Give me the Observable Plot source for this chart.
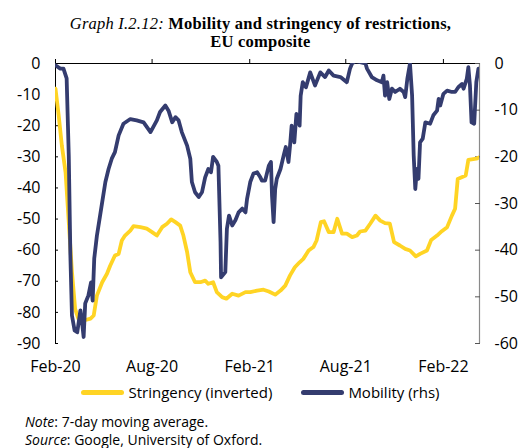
<!DOCTYPE html>
<html><head><meta charset="utf-8">
<script src="https://cdn.jsdelivr.net/npm/d3@7"></script>
<script src="https://cdn.jsdelivr.net/npm/@observablehq/plot@0.6"></script>
<style>
body{margin:0;background:#fff;width:521px;height:448px;overflow:hidden;}
#title{height:50px;box-sizing:border-box;padding-top:14.5px;text-align:center;font-family:"Liberation Serif",serif;font-size:16.5px;line-height:18.3px;letter-spacing:0.22px;color:#000;}
#chart{height:325px;}
#legend{display:flex;justify-content:center;align-items:center;margin-top:6px;height:22px;font-family:"Open Sans",sans-serif;font-size:15px;color:#000;}
.sw{display:inline-block;width:43px;height:5px;border-radius:3px;margin-right:4px;}
.item{display:flex;align-items:center;}
#notes{margin-top:10px;padding-left:25px;font-family:"Open Sans",sans-serif;font-size:14px;line-height:18px;color:#000;}
</style></head><body>
<div id="title"><i>Graph I.2.12:</i> <b>Mobility and stringency of restrictions,<br>EU composite</b></div>
<div id="chart"></div>
<div id="legend"><span class="item"><span class="sw" id="sw1"></span><span id="lab1"></span></span><span class="item" style="margin-left:29px"><span class="sw" id="sw2"></span><span id="lab2"></span></span></div>
<div id="notes"><div><i>Note</i>: 7-day moving average.</div><div><i>Source</i>: Google, University of Oxford.</div></div>
<script>
const seriesNames = ["Stringency (inverted)", "Mobility (rhs)"];
const seriesColors = ["#FFD424", "#343C6F"];

const stringencyDates = ["2020-02-01","2020-02-07","2020-02-13","2020-02-20","2020-02-26","2020-03-03","2020-03-09","2020-03-15","2020-03-25","2020-04-07","2020-04-13","2020-04-19","2020-04-29","2020-05-08","2020-05-14","2020-05-23","2020-05-30","2020-06-05","2020-06-11","2020-06-21","2020-06-27","2020-07-10","2020-07-22","2020-08-01","2020-08-10","2020-08-20","2020-08-29","2020-09-06","2020-09-14","2020-09-23","2020-09-29","2020-10-06","2020-10-12","2020-10-21","2020-10-31","2020-11-09","2020-11-15","2020-11-24","2020-12-01","2020-12-11","2020-12-19","2020-12-30","2021-01-11","2021-01-24","2021-02-02","2021-02-15","2021-02-27","2021-03-09","2021-03-21","2021-03-31","2021-04-09","2021-04-18","2021-04-27","2021-05-06","2021-05-13","2021-05-23","2021-06-01","2021-06-07","2021-06-15","2021-06-21","2021-06-30","2021-07-09","2021-07-16","2021-07-25","2021-08-03","2021-08-13","2021-08-22","2021-08-28","2021-09-07","2021-09-16","2021-09-26","2021-10-05","2021-10-14","2021-10-23","2021-10-31","2021-11-11","2021-11-21","2021-11-30","2021-12-11","2021-12-19","2022-01-01","2022-01-09","2022-01-20","2022-01-29","2022-02-08","2022-02-17","2022-02-23","2022-02-28","2022-03-15","2022-03-20","2022-04-04","2022-04-10"];
const stringencyValues = [-8.1,-16.7,-26.4,-35,-51,-67,-78.9,-82,-82.6,-82,-81,-74.6,-70.3,-67.6,-65,-61.7,-61.2,-56.9,-55.3,-53.7,-52.3,-52.6,-53.1,-54.2,-55.3,-52.6,-51.5,-50.1,-51,-52.1,-55.3,-60.6,-67.1,-70.3,-70.3,-69.8,-70.8,-70.3,-73.5,-75.1,-75.6,-74,-74.6,-73.5,-73.5,-73,-72.7,-73.3,-74.3,-73,-71.4,-68.1,-65.5,-63.9,-62.8,-60.1,-59,-56.9,-51,-50.7,-54.2,-54.2,-49.9,-54.7,-54.7,-55.8,-55.3,-54,-53.7,-51.5,-48.9,-50.5,-51.3,-51.5,-57.4,-58.5,-59.6,-60.1,-62,-61.2,-60.1,-56.7,-55.3,-53.9,-52.6,-48.9,-46.7,-37.1,-36,-31,-30.6,-30.1];

const mobilityDates = ["2020-02-01","2020-02-10","2020-02-16","2020-02-22","2020-02-26","2020-02-29","2020-03-03","2020-03-08","2020-03-13","2020-03-19","2020-03-22","2020-03-25","2020-03-28","2020-04-03","2020-04-08","2020-04-11","2020-04-14","2020-04-19","2020-04-25","2020-04-29","2020-05-05","2020-05-11","2020-05-17","2020-05-23","2020-05-30","2020-06-08","2020-06-21","2020-07-03","2020-07-16","2020-07-29","2020-08-10","2020-08-16","2020-08-26","2020-09-01","2020-09-08","2020-09-14","2020-09-20","2020-09-26","2020-10-06","2020-10-12","2020-10-15","2020-10-21","2020-10-28","2020-11-03","2020-11-09","2020-11-15","2020-11-20","2020-11-24","2020-12-01","2020-12-04","2020-12-08","2020-12-09","2020-12-17","2020-12-20","2020-12-24","2020-12-30","2021-01-05","2021-01-11","2021-01-18","2021-01-24","2021-01-27","2021-02-02","2021-02-08","2021-02-15","2021-02-21","2021-02-24","2021-03-02","2021-03-09","2021-03-13","2021-03-15","2021-03-18","2021-03-21","2021-03-24","2021-03-31","2021-04-06","2021-04-10","2021-04-15","2021-04-18","2021-04-21","2021-04-26","2021-04-30","2021-05-06","2021-05-08","2021-05-12","2021-05-18","2021-05-26","2021-06-04","2021-06-14","2021-06-23","2021-06-30","2021-07-09","2021-07-22","2021-08-03","2021-08-09","2021-08-13","2021-08-19","2021-08-28","2021-09-07","2021-09-10","2021-09-19","2021-09-29","2021-10-08","2021-10-11","2021-10-14","2021-10-18","2021-10-22","2021-10-27","2021-11-02","2021-11-11","2021-11-18","2021-11-21","2021-11-25","2021-11-30","2021-12-04","2021-12-07","2021-12-10","2021-12-13","2021-12-16","2021-12-19","2021-12-24","2021-12-29","2022-01-07","2022-01-13","2022-01-20","2022-01-23","2022-01-26","2022-02-01","2022-02-08","2022-02-17","2022-02-23","2022-03-01","2022-03-08","2022-03-11","2022-03-17","2022-03-20","2022-03-23","2022-03-26","2022-03-31","2022-04-04","2022-04-08"];
const mobilityValues = [-0.4,-1.1,-1.1,-3.2,-19.7,-41,-54,-57.2,-57.6,-52.9,-55.4,-58.6,-51.4,-49.7,-46.9,-50.8,-41.8,-36.9,-32.6,-29.7,-25.4,-22.6,-20.4,-19,-15.4,-12.9,-11.9,-12.2,-12.6,-14.7,-12.2,-10.4,-9,-10.1,-12.6,-11.5,-12.2,-14.7,-17.6,-20.4,-25.4,-27.6,-28.6,-27.6,-24.4,-22.6,-23.3,-20,-21.1,-21.9,-38.3,-45.8,-44.7,-35.4,-32.6,-34.7,-33.6,-31.9,-31.1,-31.9,-29,-25.4,-23.6,-23.3,-24.4,-25.1,-25.1,-21.9,-21.1,-28.3,-34,-26.9,-24.7,-22.6,-19.7,-17.9,-21.1,-17.6,-13.3,-16.9,-10.8,-13.3,-6.9,-4,-5.1,-1.9,-4.7,-1.9,-2.9,-1.5,-2.6,-2.9,-4,-1.1,0,0.5,0.3,0,-1.1,-2.9,-3.6,-4,-2.6,-6.9,-4,-7.6,-5.4,-6.1,-5.4,-6.1,-7.2,-3.3,0,-6.9,-19.7,-26.9,-22.6,-24.7,-16.9,-16.1,-12.6,-12.9,-11.1,-10.1,-7.6,-9,-6.5,-5.8,-6.1,-6.1,-5.1,-4.4,-5.4,-3.3,-0.8,-4.7,-12.6,-12.9,-4,-1.1];

const leftTicks = [0,-10,-20,-30,-40,-50,-60,-70,-80,-90];
const rightTicks = [0,-10,-20,-30,-40,-50,-60];
const xTickDates = ["2020-02-01","2020-08-01","2021-02-01","2021-08-01","2022-02-01"];
const xTickLabels = ["Feb-20","Aug-20","Feb-21","Aug-21","Feb-22"];
const xDomain = ["2020-02-01","2022-04-10"];

const ratio = (leftTicks[leftTicks.length-1]) / (rightTicks[rightTicks.length-1]);
const xd = xDomain.map(d => new Date(d));
const xt = xTickDates.map(d => new Date(d));
const strData = stringencyDates.map((d,i) => ({date: new Date(d), v: stringencyValues[i]}));
const mobData = mobilityDates.map((d,i) => ({date: new Date(d), v: mobilityValues[i] * ratio}));
const rightScaled = rightTicks.map(v => v * ratio);

const plot = Plot.plot({
  width: 521, height: 325,
  marginTop: 13, marginBottom: 32, marginLeft: 55, marginRight: 42,
  style: {fontFamily: "'Open Sans', sans-serif", fontSize: "16px", color: "#000", background: "#fff", overflow: "visible"},
  x: {type: "utc", domain: xd},
  y: {domain: [-90, 0]},
  marks: [
    Plot.ruleX([xd[0]], {y1: -90, y2: 0, stroke: "#000", strokeWidth: 1}),
    Plot.ruleX([xd[1]], {y1: -90, y2: 0, stroke: "#8a8a8a", strokeWidth: 1.2}),
    Plot.ruleY([0], {stroke: "#000", strokeWidth: 1}),
    Plot.axisX({anchor: "top", ticks: xt, tickSize: 5, tickFormat: () => "", label: null}),
    Plot.axisX({anchor: "bottom", ticks: xt, tickSize: 0, tickPadding: 17, label: null,
      tickFormat: d => xTickLabels[xt.findIndex(t => +t === +d)]}),
    Plot.axisY({anchor: "left", ticks: leftTicks, tickSize: -3, tickFormat: () => "", label: null}),
    Plot.axisY({anchor: "left", ticks: leftTicks, tickSize: 0, tickPadding: 15, label: null, tickFormat: d => String(d)}),
    Plot.axisY({anchor: "right", ticks: rightScaled, tickSize: -5, stroke: "#555", tickFormat: () => "", label: null}),
    Plot.axisY({anchor: "right", ticks: rightScaled, tickSize: 0, tickPadding: 15, label: null,
      tickFormat: d => String(Math.round(d / ratio))}),
    Plot.line(strData, {x: "date", y: "v", stroke: seriesColors[0], strokeWidth: 3.8, clip: true}),
    Plot.line(mobData, {x: "date", y: "v", stroke: seriesColors[1], strokeWidth: 3.8, clip: true})
  ]
});
document.getElementById("chart").appendChild(plot);
document.getElementById("sw1").style.background = seriesColors[0];
document.getElementById("sw2").style.background = seriesColors[1];
document.getElementById("lab1").textContent = seriesNames[0];
document.getElementById("lab2").textContent = seriesNames[1];
</script>
</body></html>
